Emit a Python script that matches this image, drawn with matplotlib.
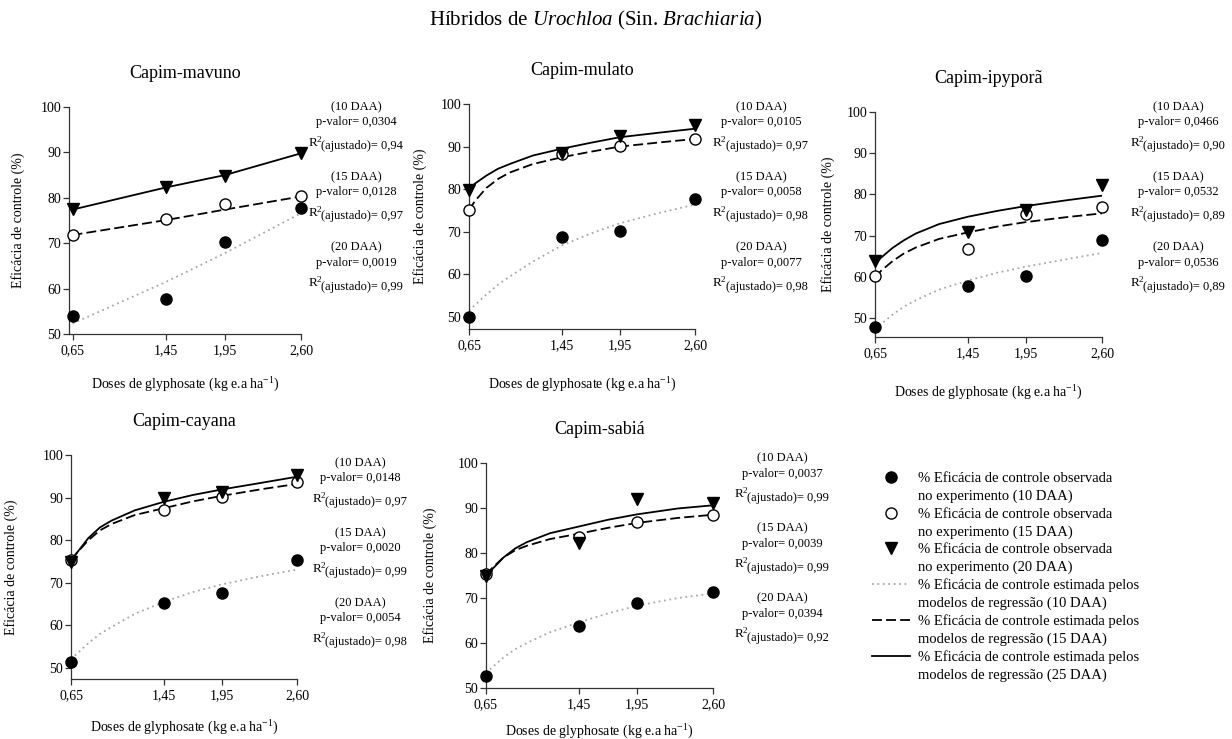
"""Glyphosate dose-response panels for five Urochloa hybrids."""
import matplotlib

matplotlib.use("Agg")
import matplotlib.pyplot as plt
from matplotlib.lines import Line2D

plt.rcParams["font.family"] = ["Liberation Serif", "DejaVu Serif"]
plt.rcParams["mathtext.fontset"] = "custom"
plt.rcParams["mathtext.rm"] = "Liberation Serif"
plt.rcParams["mathtext.it"] = "Liberation Serif:italic"

W, H = 1232, 739

DOSES = [0.65, 1.45, 1.95, 2.60]
DOSE_LABELS = ["0,65", "1,45", "1,95", "2,60"]
Y_TICKS = [50, 60, 70, 80, 90, 100]
CURVE_X = [0.65, 0.70, 0.80, 0.90, 1.00, 1.20, 1.45, 1.70, 1.95, 2.30, 2.60]
DAA = ["10", "15", "20"]

# Capim-mavuno (straight-line fits)
MAVUNO_OBS_10 = [54.0, 57.7, 70.2, 77.7]
MAVUNO_OBS_15 = [71.8, 75.3, 78.6, 80.3]
MAVUNO_OBS_20 = [77.5, 82.4, 84.9, 89.9]
MAVUNO_FIT_10 = [52.3, 61.5, 67.8, 76.6]
MAVUNO_FIT_15 = [71.8, 75.1, 77.4, 80.3]
MAVUNO_FIT_20 = [77.4, 82.3, 85.0, 89.8]
MAVUNO_P = ["0,0304", "0,0128", "0,0019"]
MAVUNO_R2 = ["0,94", "0,97", "0,99"]

# Capim-mulato
MULATO_OBS_10 = [50.0, 68.8, 70.1, 77.6]
MULATO_OBS_15 = [75.1, 88.2, 90.1, 91.8]
MULATO_OBS_20 = [79.9, 88.6, 92.5, 95.1]
MULATO_FIT_10 = [51.5, 52.8, 55.3, 57.6, 59.5, 63.0, 66.8, 69.6, 72.0, 74.5, 76.4]
MULATO_FIT_15 = [75.1, 77.2, 80.3, 82.4, 83.9, 85.9, 87.5, 88.8, 90.0, 91.0, 91.8]
MULATO_FIT_20 = [80.0, 81.3, 83.2, 84.8, 85.9, 87.9, 89.5, 90.9, 92.2, 93.3, 94.2]
MULATO_P = ["0,0105", "0,0058", "0,0077"]
MULATO_R2 = ["0,97", "0,98", "0,98"]

# Capim-ipyporã
IPYPORA_OBS_10 = [47.8, 57.7, 60.2, 68.9]
IPYPORA_OBS_15 = [60.2, 66.8, 75.2, 76.9]
IPYPORA_OBS_20 = [63.8, 71.0, 76.3, 82.2]
IPYPORA_FIT_10 = [47.3, 48.5, 50.8, 52.8, 54.3, 56.9, 59.1, 61.0, 62.5, 64.3, 65.8]
IPYPORA_FIT_15 = [59.8, 61.4, 63.8, 65.7, 67.1, 69.2, 70.8, 72.2, 73.3, 74.5, 75.4]
IPYPORA_FIT_20 = [63.0, 64.6, 67.0, 68.9, 70.5, 72.8, 74.6, 76.0, 77.2, 78.6, 79.7]
IPYPORA_P = ["0,0466", "0,0532", "0,0536"]
IPYPORA_R2 = ["0,90", "0,89", "0,89"]

# Capim-cayana
CAYANA_OBS_10 = [51.4, 65.3, 67.7, 75.3]
CAYANA_OBS_15 = [75.3, 87.1, 90.2, 93.7]
CAYANA_OBS_20 = [74.9, 90.0, 91.4, 95.3]
CAYANA_FIT_10 = [52.0, 53.3, 55.8, 58.0, 59.6, 62.7, 65.5, 67.8, 69.6, 71.6, 73.1]
CAYANA_FIT_15 = [75.3, 77.0, 80.0, 82.3, 83.8, 85.9, 87.5, 89.1, 90.4, 92.0, 93.2]
CAYANA_FIT_20 = [74.9, 77.0, 80.5, 83.0, 84.6, 87.0, 89.0, 90.6, 91.9, 93.5, 94.9]
CAYANA_P = ["0,0148", "0,0020", "0,0054"]
CAYANA_R2 = ["0,97", "0,99", "0,98"]

# Capim-sabiá
SABIA_OBS_10 = [52.6, 63.8, 68.8, 71.3]
SABIA_OBS_15 = [75.3, 83.5, 86.8, 88.4]
SABIA_OBS_20 = [74.9, 82.3, 92.0, 91.1]
SABIA_FIT_10 = [53.3, 54.5, 56.8, 58.6, 60.0, 62.4, 64.6, 66.6, 68.3, 70.0, 71.0]
SABIA_FIT_15 = [75.1, 76.6, 79.0, 80.6, 81.6, 83.1, 84.3, 85.6, 86.7, 87.8, 88.5]
SABIA_FIT_20 = [74.7, 76.3, 79.0, 81.0, 82.4, 84.4, 85.9, 87.4, 88.6, 89.9, 90.6]
SABIA_P = ["0,0037", "0,0039", "0,0394"]
SABIA_R2 = ["0,99", "0,99", "0,92"]

DOTTED = dict(color="#a8a8a8", linestyle=(0, (1, 2)), linewidth=1.3)
DASHED = dict(color="black", linestyle=(0, (5.5, 2.3)), linewidth=1.3)
SOLID = dict(color="black", linestyle="-", linewidth=1.3)
FILLED = dict(marker="o", markersize=8, color="black", linestyle="none")
OPEN = dict(marker="o", markersize=8, markerfacecolor="white",
            markeredgecolor="black", markeredgewidth=1.0, linestyle="none")
TRIANGLE = dict(marker="v", markersize=8.5, color="black", linestyle="none")


def px_rect(left, top, right, bottom):
    return [left / W, 1 - bottom / H, (right - left) / W, (bottom - top) / H]


def draw_panel(fig, rect, title, xmin, ymin, fit_x, obs, fits, ylabel_x, xlabel_y):
    ax = fig.add_axes(px_rect(*rect))
    for values, style in zip(fits, (DOTTED, DASHED, SOLID)):
        ax.plot(fit_x, values, **style)
    for values, style in zip(obs, (FILLED, OPEN, TRIANGLE)):
        ax.plot(DOSES, values, clip_on=False, zorder=4, **style)

    ax.set_xlim(xmin, 2.60)
    ax.set_ylim(ymin, 100)
    ax.set_xticks(DOSES, DOSE_LABELS)
    ax.set_yticks(Y_TICKS)
    ax.tick_params(direction="out", length=4, width=0.9, labelsize=10,
                   color="#333333")
    ax.tick_params(axis="y", pad=1.5)
    ax.tick_params(axis="x", pad=3.5)
    for side in ("top", "right"):
        ax.spines[side].set_visible(False)
    for side in ("left", "bottom"):
        ax.spines[side].set_color("#333333")
        ax.spines[side].set_linewidth(0.9)

    left, top, right, bottom = rect
    ax.set_title(title, fontsize=13, pad=21)
    ax.set_ylabel("Eficácia de controle (%)", fontsize=10)
    ax.yaxis.set_label_coords(-(left - ylabel_x) / (right - left), 0.5)
    ax.set_xlabel("Doses de glyphosate (kg e.a ha$^{-1}$)", fontsize=10,
                  va="center")
    ax.xaxis.set_label_coords(0.5, -(xlabel_y - bottom) / (bottom - top))
    return ax


def stats_block(fig, renderer, cx, top, p_values, r2_values):
    for k, (daa, p, r2) in enumerate(zip(DAA, p_values, r2_values)):
        y0 = top + k * 70
        fig.text(cx / W, 1 - y0 / H, f"({daa} DAA)", ha="center",
                 va="center", fontsize=9)
        fig.text(cx / W, 1 - (y0 + 15.5) / H, f"p-valor= {p}", ha="center",
                 va="center", fontsize=9)
        base = y0 + 40
        r = fig.text((cx - 48.5) / W, 1 - base / H, "R$^2$", ha="left",
                     va="baseline", fontsize=9.5)
        x_end = r.get_window_extent(renderer=renderer).x1
        fig.text((x_end - 1.5) / W, 1 - (base + 2.5) / H,
                 f"(ajustado)= {r2}", ha="left", va="baseline", fontsize=9)


fig = plt.figure(figsize=(W / 100, H / 100), dpi=100)
renderer = fig.canvas.get_renderer()

fig.text(596 / W, 1 - 20 / H,
         "Híbridos de $\\mathit{Urochloa}$ (Sin. $\\mathit{Brachiaria}$)",
         ha="center", va="center", fontsize=15)

panels = [
    ("Capim-mavuno", (69, 107, 301, 334), 0.62, 50.0, DOSES,
     (MAVUNO_OBS_10, MAVUNO_OBS_15, MAVUNO_OBS_20),
     (MAVUNO_FIT_10, MAVUNO_FIT_15, MAVUNO_FIT_20), 25, 385, 356, 107,
     MAVUNO_P, MAVUNO_R2),
    ("Capim-mulato", (469, 104, 695, 329), 0.65, 47.2, CURVE_X,
     (MULATO_OBS_10, MULATO_OBS_15, MULATO_OBS_20),
     (MULATO_FIT_10, MULATO_FIT_15, MULATO_FIT_20), 427, 385, 761, 107,
     MULATO_P, MULATO_R2),
    ("Capim-ipyporã", (875, 112, 1102, 337), 0.65, 45.4, CURVE_X,
     (IPYPORA_OBS_10, IPYPORA_OBS_15, IPYPORA_OBS_20),
     (IPYPORA_FIT_10, IPYPORA_FIT_15, IPYPORA_FIT_20), 835, 393, 1178, 107,
     IPYPORA_P, IPYPORA_R2),
    ("Capim-cayana", (71, 455, 297, 679), 0.65, 47.4, CURVE_X,
     (CAYANA_OBS_10, CAYANA_OBS_15, CAYANA_OBS_20),
     (CAYANA_FIT_10, CAYANA_FIT_15, CAYANA_FIT_20), 18, 728, 360, 463,
     CAYANA_P, CAYANA_R2),
    ("Capim-sabiá", (486, 463, 713, 688), 0.65, 50.0, CURVE_X,
     (SABIA_OBS_10, SABIA_OBS_15, SABIA_OBS_20),
     (SABIA_FIT_10, SABIA_FIT_15, SABIA_FIT_20), 437, 732, 782, 458,
     SABIA_P, SABIA_R2),
]

for (title, rect, xmin, ymin, fit_x, obs, fits, ylab_x, xlab_y, cx, top,
     p_vals, r2_vals) in panels:
    draw_panel(fig, rect, title, xmin, ymin, fit_x, obs, fits, ylab_x, xlab_y)
    stats_block(fig, renderer, cx, top, p_vals, r2_vals)

blank = Line2D([], [], linestyle="none")
handles = [
    Line2D([], [], **FILLED), blank,
    Line2D([], [], **OPEN), blank,
    Line2D([], [], **TRIANGLE), blank,
    Line2D([], [], **DOTTED), blank,
    Line2D([], [], **DASHED), blank,
    Line2D([], [], **SOLID), blank,
]
labels = [
    "% Eficácia de controle observada", "no experimento (10 DAA)",
    "% Eficácia de controle observada", "no experimento (15 DAA)",
    "% Eficácia de controle observada", "no experimento (20 DAA)",
    "% Eficácia de controle estimada pelos", "modelos de regressão (10 DAA)",
    "% Eficácia de controle estimada pelos", "modelos de regressão (15 DAA)",
    "% Eficácia de controle estimada pelos", "modelos de regressão (25 DAA)",
]
fig.legend(handles, labels, loc="upper left",
           bbox_to_anchor=(872 / W, 1 - 472 / H), frameon=False,
           fontsize=10.5, borderpad=0, borderaxespad=0, handlelength=2.6,
           handletextpad=0.55, labelspacing=0.3)

fig.savefig("out.png", dpi=100)
